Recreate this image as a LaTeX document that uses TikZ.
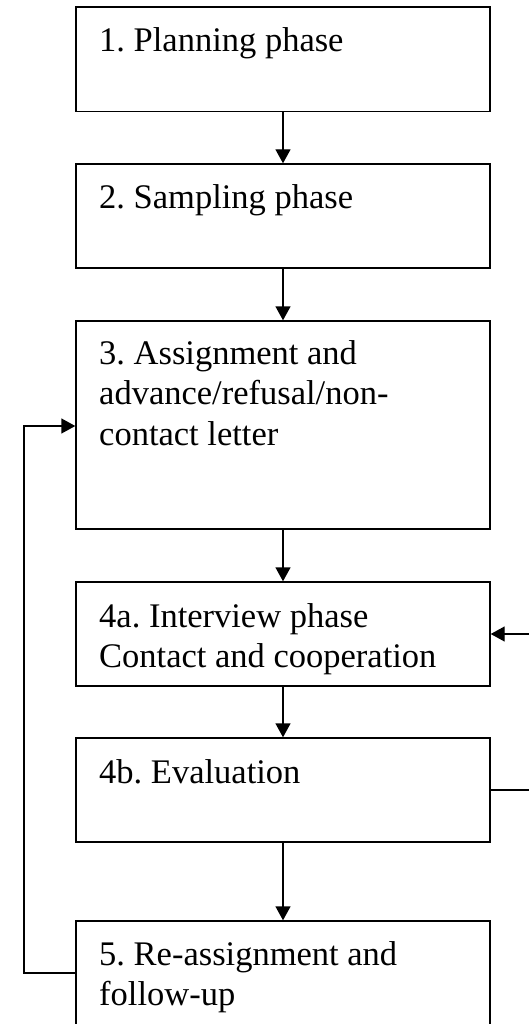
\documentclass[tikz,border=0pt]{standalone}
\usepackage{fontspec}
\setmainfont{Liberation Serif}
\usetikzlibrary{arrows.meta}
\frenchspacing
\begin{document}
\begin{tikzpicture}[x=1pt,y=-1pt,
  phasebox/.style={draw,line width=1.4pt,minimum width=414pt,inner sep=0pt},
  phasetext/.style={anchor=base west,inner sep=0pt,font=\fontsize{34.5pt}{40.5pt}\selectfont},
  flow/.style={line width=1.4pt,-{Triangle[length=14pt,width=15pt]}},
  plain/.style={line width=1.4pt}]
\useasboundingbox (0,0) rectangle (529,1024);
\clip (0,0) rectangle (529,1024);
\fill[white] (0,0) rectangle (529,1024);
% boxes
\node[phasebox,minimum height=104.5pt] (b1) at (283,59.25) {};
\node[phasebox,minimum height=104pt] (b2) at (283,216) {};
\node[phasebox,minimum height=208pt] (b3) at (283,425) {};
\node[phasebox,minimum height=104pt] (b4a) at (283,634) {};
\node[phasebox,minimum height=104pt] (b4b) at (283,790) {};
\node[phasebox,minimum height=106pt] (b5) at (283,974) {};
% texts
\node[phasetext] (t1) at (99,52) {1. Planning phase};
\node[phasetext] (t2) at (99,209) {2. Sampling phase};
\node[phasetext] (t3) at (99,364) {\parbox[t]{380pt}{\frenchspacing 3. Assignment and\\advance/refusal/non-\\contact letter}};
\node[phasetext] (t4a) at (99,627) {\parbox[t]{380pt}{\frenchspacing 4a. Interview phase\\Contact and cooperation}};
\node[phasetext] (t4b) at (99,783) {4b. Evaluation};
\node[phasetext] (t5) at (99,965) {\parbox[t]{380pt}{\frenchspacing 5. Re-assignment and\\follow-up}};
% connectors
\draw[flow] (b1) -- (b2);
\draw[flow] (b2) -- (b3);
\draw[flow] (b3) -- (b4a);
\draw[flow] (b4a) -- (b4b);
\draw[flow] (b4b) -- (b5);
\coordinate (lb) at (24,973);
\coordinate (lt) at (24,426);
\draw[flow] (b5.west |- lb) -- (lb) -- (lt) -- (b3.west |- lt);
\coordinate (rb) at (545,790);
\coordinate (rt) at (545,634);
\draw[flow] (b4b.east) -- (rb) -- (rt) -- (b4a.east);
\end{tikzpicture}
\end{document}
